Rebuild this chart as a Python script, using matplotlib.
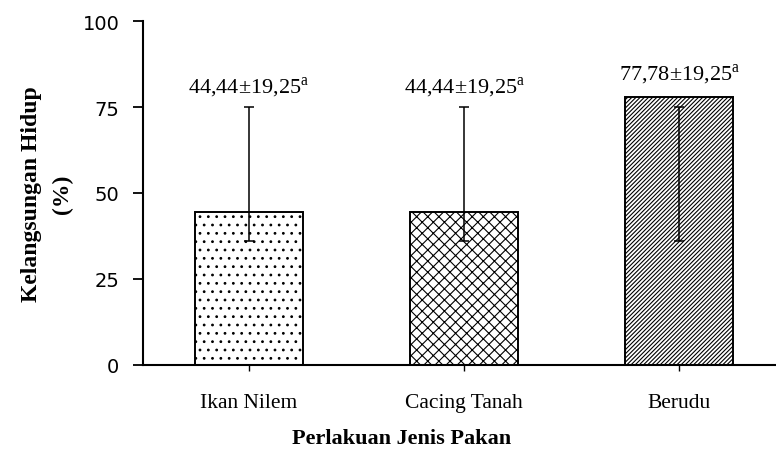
import matplotlib
matplotlib.use("Agg")
import matplotlib.pyplot as plt
import numpy as np

categories = ["Ikan Nilem", "Cacing Tanah", "Berudu"]
survival = [44.44, 44.44, 77.78]
err_lo = [36.1, 36.1, 36.1]
err_hi = [75.0, 75.0, 75.0]
labels = ["44,44±19,25$^{\\mathrm{a}}$", "44,44±19,25$^{\\mathrm{a}}$", "77,78±19,25$^{\\mathrm{a}}$"]
hatches = ["..", "xxx", "////////"]
yticks = [0, 25, 50, 75, 100]

plt.rcParams["mathtext.fontset"] = "custom"
plt.rcParams["mathtext.rm"] = "Liberation Serif"
plt.rcParams["hatch.linewidth"] = 0.8

fig = plt.figure(figsize=(7.76, 4.6), dpi=100)
ax = fig.add_axes([143/776, 1 - 366/460, 1 - 143/776, (366 - 22)/460])

x = np.arange(len(categories))
bars = ax.bar(x, survival, width=0.5, color="white", edgecolor="black",
              linewidth=1.4, zorder=2)
for b, h in zip(bars, hatches):
    b.set_hatch(h)

lo = np.array(err_lo)
hi = np.array(err_hi)
mid = (lo + hi) / 2
ax.errorbar(x, mid, yerr=(hi - lo) / 2, fmt="none", ecolor="black",
            elinewidth=1.1, capsize=3.5, capthick=1.1, zorder=3)

for xi, s, h, lab in zip(x, survival, hi, labels):
    top = max(s, h)
    off = 6 if h >= s else 8
    ax.annotate(lab, (xi, top), xytext=(0, off), textcoords="offset points",
                ha="center", va="bottom", fontsize=16, family="Liberation Serif")

ax.set_xlim(-0.493, 2.45)
ax.set_ylim(0, 100)
ax.set_yticks(yticks)
ax.set_yticklabels([str(t) for t in yticks], fontsize=14, family="DejaVu Sans")
ax.set_xticks(x)
ax.set_xticklabels(categories, fontsize=15.5, family="Liberation Serif")
ax.tick_params(axis="y", direction="out", length=7, width=1.3, pad=10)
ax.tick_params(axis="x", direction="out", length=4, width=1.0, pad=16.5)

for side in ["top", "right"]:
    ax.spines[side].set_visible(False)
for side in ["left", "bottom"]:
    ax.spines[side].set_linewidth(1.5)

ax.set_ylabel("Kelangsungan Hidup\n(%)", fontsize=17, fontweight="bold",
              family="Liberation Serif", labelpad=7, linespacing=1.6)
ax.set_xlabel("Perlakuan Jenis Pakan", fontsize=16, fontweight="bold",
              family="Liberation Serif")
ax.xaxis.set_label_coords((402 - 143) / 633, -0.183)

fig.savefig("out.png", dpi=100)
